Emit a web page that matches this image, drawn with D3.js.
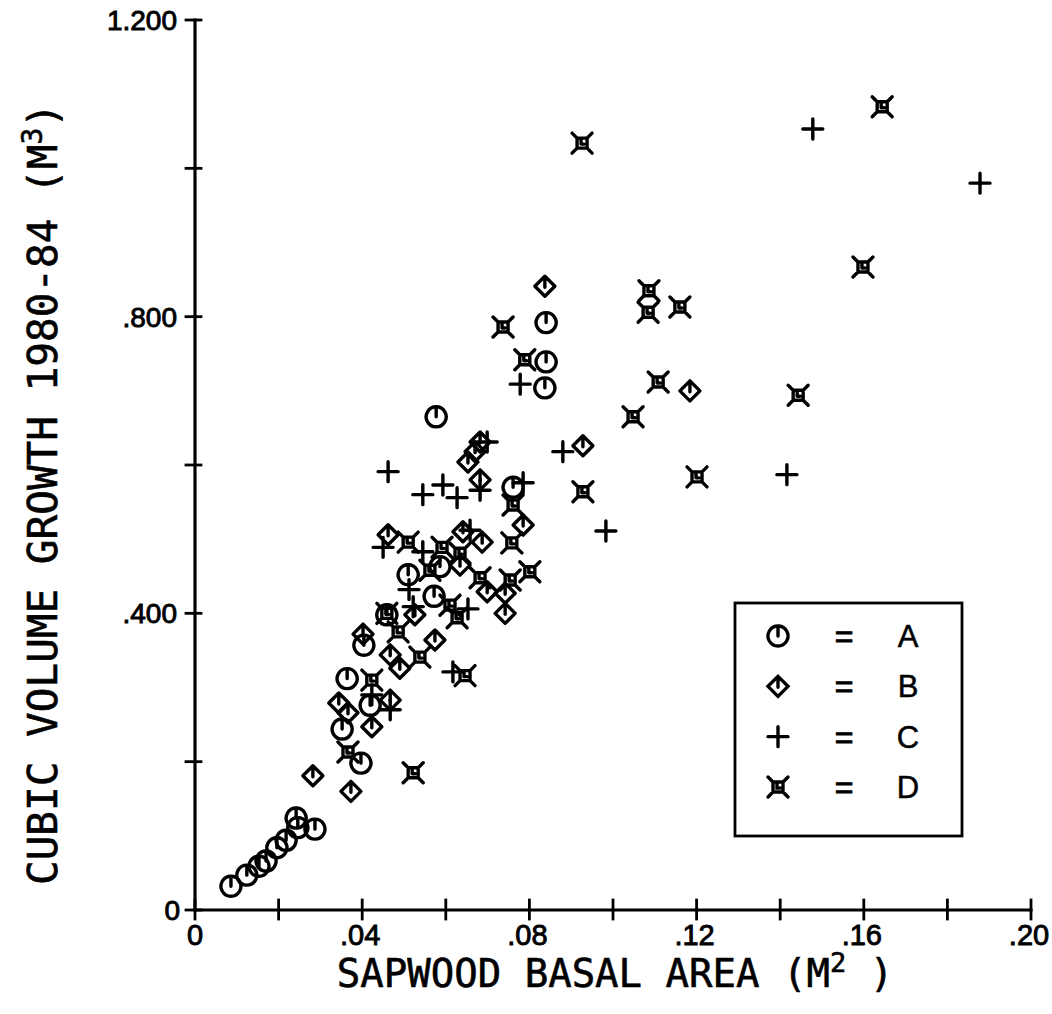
<!DOCTYPE html>
<html><head><meta charset="utf-8">
<script src="https://cdn.jsdelivr.net/npm/d3@7"></script>
<style>body{margin:0;background:#fff}svg{display:block}</style>
</head><body><svg id="c" width="1052" height="1014"></svg>
<script>
// ---- data ----
const xTickValues = [0, .02, .04, .06, .08, .10, .12, .14, .16, .18, .20];
const xTickLabels = {0:"0", .04:".04", .08:".08", .12:".12", .16:".16", .20:".20"};
const yTickValues = [0, .2, .4, .6, .8, 1.0, 1.2];
const yTickLabels = {0:"0", .4:".400", .8:".800", 1.2:"1.200"};
const legendKeys = ["A", "B", "C", "D"];

const groupA = [[.0086,.032],[.0124,.047],[.0153,.059],[.0170,.066],[.0196,.084],[.0218,.094],
 [.0242,.124],[.0246,.111],[.0287,.109],[.0397,.198],[.0352,.244],[.0364,.312],[.0404,.357],
 [.0419,.276],[.0459,.398],[.0510,.452],[.0572,.423],[.0586,.463],[.0577,.665],[.0761,.570],
 [.0837,.704],[.0840,.739],[.0840,.792]];
const groupB = [[.0282,.181],[.0373,.160],[.0344,.279],[.0366,.266],[.0423,.247],[.0467,.283],
 [.0402,.372],[.0467,.344],[.0490,.326],[.0574,.364],[.0526,.398],[.0462,.506],[.0641,.510],
 [.0687,.496],[.0785,.519],[.0634,.465],[.0699,.429],[.0742,.427],[.0742,.400],[.0682,.580],
 [.0682,.631],[.0670,.618],[.0653,.604],[.0837,.841],[.0928,.626],[.1184,.700]];
const groupC = [[.0462,.591],[.0545,.560],[.0593,.573],[.0627,.556],[.0682,.566],[.0699,.631],
 [.0785,.576],[.0778,.709],[.0880,.618],[.1478,1.053],[.1878,.980],[.1416,.587],[.0983,.511],
 [.0450,.489],[.0545,.483],[.0658,.512],[.0512,.432],[.0522,.409],[.0653,.406],[.0423,.290],
 [.0467,.270],[.0617,.321]];
const groupD = [[.0926,1.034],[.1644,1.083],[.1598,.867],[.1086,.835],[.1084,.806],[.1160,.813],
 [.1108,.712],[.1443,.694],[.1048,.665],[.1201,.584],[.0928,.564],[.0737,.786],[.0789,.742],
 [.0761,.546],[.0510,.496],[.0591,.489],[.0758,.495],[.0634,.481],[.0562,.458],[.0682,.448],
 [.0754,.445],[.0801,.456],[.0610,.411],[.0627,.394],[.0459,.400],[.0486,.375],[.0538,.341],
 [.0366,.213],[.0522,.185],[.0646,.316],[.0423,.310]];

// ---- drawing ----
const svg = d3.select("#c");
const x = d3.scaleLinear().domain([0, .2]).range([195, 1031]);
const y = d3.scaleLinear().domain([0, 1.2]).range([910, 20]);
const ink = "#000";
const tickFont = "'Liberation Sans', Arial, sans-serif";
const labelFont = "'DejaVu Sans Mono', monospace";

const axes = svg.append("g").attr("stroke", ink).attr("stroke-width", 3.2).attr("stroke-linecap", "square");
axes.append("line").attr("x1", x(0)).attr("x2", x(.2)).attr("y1", y(0)).attr("y2", y(0));
axes.append("line").attr("x1", x(0)).attr("x2", x(0)).attr("y1", y(0)).attr("y2", y(1.2));
axes.selectAll(".xt").data(xTickValues).join("line")
  .attr("x1", d => x(d)).attr("x2", d => x(d)).attr("y1", y(0) - 10).attr("y2", y(0) + 9).attr("stroke-width", 2.8);
axes.selectAll(".yt").data(yTickValues).join("line")
  .attr("y1", d => y(d)).attr("y2", d => y(d)).attr("x1", x(0) - 9).attr("x2", x(0) + 6).attr("stroke-width", 2.8);

svg.selectAll(".xl").data(xTickValues.filter(d => xTickLabels[d] !== undefined)).join("text")
  .attr("x", d => x(d) + (d === 0 ? 0 : -2)).attr("y", 945).attr("text-anchor", "middle")
  .attr("font-family", tickFont).attr("font-size", 29).attr("fill", ink)
  .attr("stroke", ink).attr("stroke-width", 0.9)
  .text(d => xTickLabels[d]);
svg.selectAll(".yl").data(yTickValues.filter(d => yTickLabels[d] !== undefined)).join("text")
  .attr("x", d => d === 0 ? 180 : 177).attr("y", d => y(d) + 10).attr("text-anchor", "end")
  .attr("font-family", tickFont).attr("font-size", 28).attr("fill", ink)
  .attr("stroke", ink).attr("stroke-width", 0.9)
  .text(d => yTickLabels[d]);

// axis titles
const xt = svg.append("text").attr("x", 615).attr("y", 987).attr("text-anchor", "middle")
  .attr("font-family", labelFont).attr("font-size", 39).attr("fill", ink)
  .attr("stroke", ink).attr("stroke-width", 0.6);
xt.append("tspan").text("SAPWOOD BASAL AREA (M");
xt.append("tspan").attr("dy", -15).attr("font-size", 27).text("2");
xt.append("tspan").attr("dy", 15).text(" )");

const yt = svg.append("text").attr("transform", "translate(57,494) rotate(-90)").attr("text-anchor", "middle")
  .attr("font-family", labelFont).attr("font-size", 41).attr("fill", ink)
  .attr("stroke", ink).attr("stroke-width", 0.6);
yt.append("tspan").text("CUBIC VOLUME GROWTH 1980-84 (M");
yt.append("tspan").attr("dy", -15).attr("font-size", 28).text("3");
yt.append("tspan").attr("dy", 15).text(")");

// markers
const shapes = {
  A: "M0,-10A10,10 0 1,1 -0.01,-10Z M0,-10V0",
  B: "M0,-10L10,0L0,10L-10,0Z M0,-10V1",
  C: "M-10,0H10M0,-10V10",
  D: "M-5,-5H5V5H-5Z M-10,-10L-5,-5 M10,-10L5,-5 M10,10L5,5 M-10,10L-5,5 M-1,-3V1H2"
};
const groups = {A: groupA, B: groupB, C: groupC, D: groupD};
const marks = svg.append("g").attr("fill", "none").attr("stroke", ink).attr("stroke-width", 3.4)
  .attr("stroke-linecap", "round").attr("stroke-linejoin", "round");
legendKeys.forEach(k => {
  marks.selectAll(".m" + k).data(groups[k]).join("path")
    .attr("transform", d => `translate(${x(d[0])},${y(d[1])})`)
    .attr("d", shapes[k]);
});

// legend
const lg = svg.append("g");
lg.append("rect").attr("x", 735).attr("y", 603).attr("width", 227).attr("height", 233)
  .attr("fill", "#fff").attr("stroke", ink).attr("stroke-width", 2.8);
const rowY = d3.scalePoint().domain(legendKeys).range([636, 787]);
lg.selectAll(".ls").data(legendKeys).join("path")
  .attr("transform", d => `translate(778,${rowY(d)})`).attr("d", d => shapes[d])
  .attr("fill", "none").attr("stroke", ink).attr("stroke-width", 3.4).attr("stroke-linecap", "round");
lg.selectAll(".le").data(legendKeys).join("text")
  .attr("x", 844).attr("y", d => rowY(d) + 11).attr("text-anchor", "middle")
  .attr("font-family", tickFont).attr("font-size", 32).attr("fill", ink)
  .attr("stroke", ink).attr("stroke-width", 1).text("=");
lg.selectAll(".lt").data(legendKeys).join("text")
  .attr("x", 908).attr("y", d => rowY(d) + 11).attr("text-anchor", "middle")
  .attr("font-family", tickFont).attr("font-size", 31).attr("fill", ink)
  .attr("stroke", ink).attr("stroke-width", 0.5).text(d => d);
</script>
</body></html>
